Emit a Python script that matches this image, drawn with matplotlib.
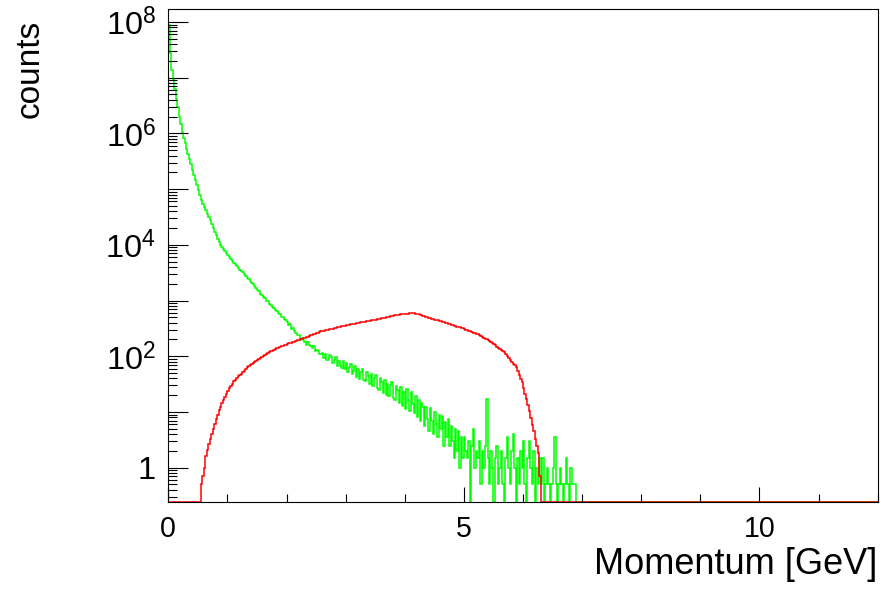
import matplotlib
matplotlib.use('Agg')
import matplotlib.pyplot as plt
import numpy as np
from matplotlib.ticker import LogLocator, MultipleLocator, FuncFormatter, NullFormatter

plt.rcParams['font.family'] = ['Liberation Sans', 'DejaVu Sans']
plt.rcParams['mathtext.fontset'] = 'custom'
plt.rcParams['mathtext.rm'] = 'Liberation Sans'
plt.rcParams['mathtext.it'] = 'Liberation Sans:italic'

# histogram binning (GeV)
bin_width = 0.025
x_max = 12.0

# green: counts per bin, starting at 0 GeV
green = [
    8.9e7, 2.8e7, 1.4e7, 9.5e6, 6.3e6, 4.2e6, 2.95e6, 2.0e6, 1.48e6, 1.07e6,
    8.3e5, 6.6e5, 5.2e5, 4.3e5, 3.5e5, 2.8e5, 2.24e5, 1.78e5, 1.45e5, 1.17e5,
    9.5e4, 7.9e4, 6.5e4, 5.5e4, 4.8e4, 4.2e4, 3.55e4, 3.1e4, 2.75e4, 2.35e4,
    2.0e4, 1.7e4, 1.48e4, 1.29e4, 1.12e4, 1.0e4, 9.1e3, 8.3e3, 7.6e3, 7.1e3,
    6.5e3, 6.0e3, 5.5e3, 5.1e3, 4.8e3, 4.5e3, 4.2e3, 3.9e3, 3.6e3, 3.4e3,
    3.2e3, 2.95e3, 2.75e3, 2.57e3, 2.4e3, 2.24e3, 2.09e3, 1.95e3, 1.82e3, 1.7e3,
    1550, 1460, 1330, 1280, 1160, 1110, 1000, 970, 880, 840,
    770, 745, 680, 655, 590, 570, 515, 505, 460, 442,
    420, 368, 372, 305, 322, 286, 262, 242, 238, 196,
    214, 192, 184, 162, 183, 158, 150, 138, 155, 122,
    128, 124, 112, 109, 116, 93, 110, 86, 84, 104,
    99, 75, 87, 96, 68, 83, 67, 62, 81, 58,
    77, 53, 65, 72, 48.5, 54, 66, 43, 60, 39.5,
    53, 59, 37.5, 35.5, 52, 43.5, 31.5, 48.5, 29.5, 41,
    46, 26.5, 24.5, 41, 34, 22, 38, 20.5, 32, 19,
    31, 35, 18, 16.5, 29, 25, 14.5, 28.5, 13, 22.5,
    11.5, 26, 16.5, 10.5, 23, 14, 9.5, 19.5, 8, 16.5,
    7, 14.5, 12.5, 5.5, 12.5, 7.5, 4.5, 12, 7, 4,
    10, 6, 3.5, 9, 5, 8.5, 2.5, 6.5, 3.5, 7.5,
    2.5, 5.5, 3, 1.5, 5, 2, 4.5, 1, 3.5, 1.5,
    3.5, 2, 1.5, 3, 0, 2.5, 5, 1, 2, 1.5,
    3, 0.5, 2, 1, 2.5, 17, 1.5, 0.5, 2, 1,
    0, 1.5, 2.5, 0.5, 1, 2, 0.5, 0, 1.5, 3.5,
    1, 0.5, 2, 4, 1, 0, 1.5, 0.5, 2, 1,
    3, 0.5, 0, 1.5, 3, 1, 0.5, 2, 0, 1,
    0.5, 1.5, 0.5, 1.5, 0, 0.5, 1, 0.5, 0, 0.5,
    1, 3.5, 0.5, 0, 0.5, 1, 0.5, 0, 0.5, 1.5,
    0.5, 0, 1, 0.5, 0.5, 0.5,
]

# red: counts per bin, starting at 0 GeV
red = [0] * 22 + [
    0.5, 0.7, 1.0, 1.6, 2.1, 2.7, 3.3, 4.1,
    4.9, 6.0, 7.6, 8.9, 10.7, 12.3, 14.5, 16.6, 18.6, 20.9,
    24, 26.9, 29.5, 32.4, 35.5, 38, 40.7, 43.6, 46.8, 49,
    52.5, 55, 58.9, 63, 66, 69, 72.4, 75.9, 79.4, 83.2,
    87.1, 90.2, 93.3, 97.7, 102, 107, 111, 115, 117.5, 122,
    126, 129, 133, 138, 141, 146, 151, 155, 158.5, 162,
    166, 170, 174, 176, 180, 184, 188, 193, 195, 200,
    204, 209, 214, 219, 224, 232, 237, 243, 248, 254,
    260, 266, 272, 279, 282, 286, 291, 295, 300, 305,
    309, 314, 319, 324, 329, 334, 339, 344, 350, 355,
    361, 365, 369, 373, 378, 382, 386, 391, 395, 400,
    405, 409, 414, 419, 424, 429, 434, 439, 444, 449,
    455, 461, 468, 474, 481, 488, 494, 501, 508, 515,
    522, 530, 537, 545, 551, 555, 558, 562, 568, 571,
    575, 579, 585, 589, 590, 592, 593, 583, 573, 564,
    553, 545, 535, 526, 516, 506, 495, 485, 476, 467,
    457, 448, 439, 430, 422, 413, 405, 396, 389, 382,
    375, 368, 361, 355, 348, 342, 336, 330, 324, 318,
    309, 301, 294, 287, 280, 274, 267, 260, 254, 248,
    242, 233, 224, 216, 208, 200, 193, 186, 179, 172,
    164, 157, 149, 143, 136, 130, 124, 118, 112, 102,
    94.4, 87, 80.4, 74.1, 68.4, 63.1, 55, 46.8, 39.8, 33.9,
    26.9, 21.4, 17, 13.5, 10.2, 7.8, 5.9, 4.5, 3.3, 2.5,
    1.8, 0.7,
]

y_min, y_max = 0.242, 1.71e8

edges = np.arange(0, x_max + bin_width / 2, bin_width)
n_bins = len(edges) - 1
g = np.zeros(n_bins)
g[:len(green)] = green
r = np.zeros(n_bins)
r[:len(red)] = red

fig = plt.figure(figsize=(8.95, 5.97), dpi=100)
ax = fig.add_axes([0.188, 0.1591, 0.7927, 0.8258])

# zero bins are drawn on the lower frame, like ROOT does
ax.stairs(np.maximum(g, y_min), edges, baseline=None, color='#00ff00', lw=1.1, clip_on=False)
ax.stairs(np.maximum(r, y_min), edges, baseline=None, color='#ff0000', lw=1.1, clip_on=False)

ax.set_yscale('log')
ax.set_xlim(0, x_max)
ax.set_ylim(y_min, y_max)

ax.xaxis.set_major_locator(MultipleLocator(5))
ax.xaxis.set_minor_locator(MultipleLocator(1))
ax.yaxis.set_major_locator(LogLocator(base=10, subs=(1.0,), numticks=30))
ax.yaxis.set_minor_locator(LogLocator(base=10, subs=np.arange(2, 10), numticks=30))


def ylab(v, pos):
    n = int(round(np.log10(v)))
    if n == 0:
        return '1'
    if n > 0 and n % 2 == 0:
        return r'$10^{%d}$' % n
    return ''


ax.yaxis.set_major_formatter(FuncFormatter(ylab))
ax.yaxis.set_minor_formatter(NullFormatter())

ax.tick_params(axis='y', which='major', direction='in', length=14.4, width=0.8,
               pad=9, labelsize=23.4)
ax.tick_params(axis='y', which='minor', direction='in', length=6.5, width=0.8)
ax.tick_params(axis='x', which='major', direction='in', length=10.8, width=0.8,
               pad=9, labelsize=20.6)
ax.tick_params(axis='x', which='minor', direction='in', length=5.8, width=0.8)
ax.tick_params(top=False, right=False, which='both')
for s in ax.spines.values():
    s.set_linewidth(0.8)

fig.text(877 / 895, 1 - 574 / 597, 'Momentum [GeV]', ha='right', va='baseline', fontsize=26)
fig.text(30.5 / 895, 1 - 20 / 597, 'counts', rotation=90, ha='center', va='top', fontsize=24)

fig.savefig('out.png', dpi=100)
